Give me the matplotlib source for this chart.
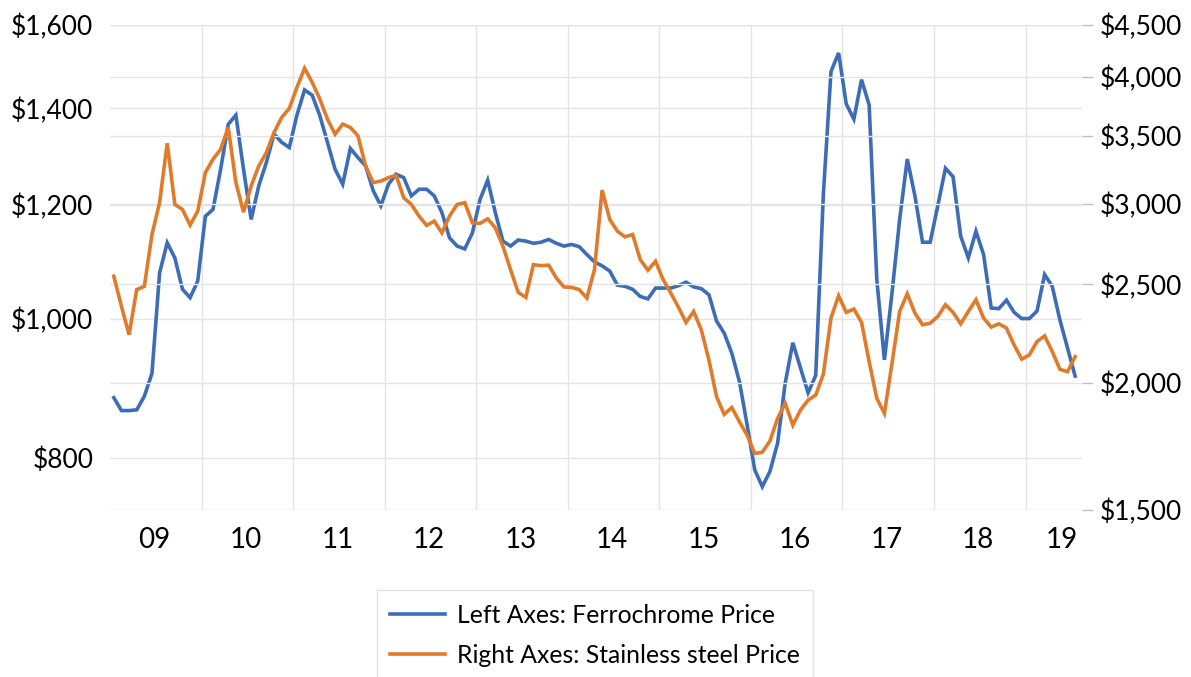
import numpy as np
import matplotlib
matplotlib.use("Agg")
import matplotlib.pyplot as plt
from matplotlib.ticker import FixedLocator, FixedFormatter, NullLocator

plt.rcParams['font.family'] = ['Lato', 'DejaVu Sans']

# monthly prices, Jan 2009 - Jul 2019
ferrochrome = [
    881, 863, 863, 864, 883, 916, 1076, 1129, 1102, 1048, 1034, 1062,
    1178, 1191, 1270, 1365, 1385, 1270, 1172, 1237, 1284, 1344, 1326, 1315,
    1385, 1442, 1430, 1384, 1326, 1270, 1240, 1313, 1294, 1277, 1227, 1198,
    1240, 1260, 1253, 1217, 1230, 1230, 1217, 1185, 1138, 1123, 1118, 1147,
    1210, 1248, 1185, 1132, 1123, 1134, 1132, 1128, 1130, 1135, 1128, 1123,
    1126, 1122, 1108, 1095, 1088, 1079, 1055, 1053, 1048, 1036, 1032, 1050,
    1050, 1050, 1054, 1060, 1052, 1049, 1039, 996, 977, 946, 904, 844,
    785, 764, 783, 819, 902, 962, 924, 888, 913, 1220, 1485, 1530,
    1410, 1376, 1466, 1408, 1065, 936, 1042, 1172, 1291, 1217, 1130, 1130,
    1198, 1272, 1255, 1141, 1102, 1150, 1108, 1017, 1016, 1030, 1010, 1000,
    1000, 1012, 1073, 1053, 998, 954, 912,
]
stainless = [
    2547, 2379, 2231, 2471, 2489, 2800, 3009, 3443, 2997, 2963, 2860, 2952,
    3221, 3320, 3396, 3568, 3149, 2945, 3125, 3270, 3371, 3527, 3650, 3725,
    3907, 4080, 3952, 3805, 3636, 3514, 3595, 3568, 3501, 3270, 3149, 3160,
    3185, 3201, 3043, 2997, 2919, 2858, 2886, 2810, 2919, 2997, 3009, 2875,
    2871, 2901, 2842, 2726, 2586, 2456, 2428, 2615, 2609, 2612, 2537, 2486,
    2484, 2471, 2424, 2586, 3096, 2897, 2821, 2785, 2800, 2645, 2582, 2635,
    2528, 2452, 2375, 2294, 2352, 2256, 2107, 1939, 1863, 1892, 1832, 1777,
    1705, 1710, 1754, 1846, 1910, 1818, 1881, 1924, 1946, 2041, 2317, 2437,
    2347, 2365, 2295, 2099, 1932, 1867, 2092, 2352, 2448, 2343, 2282, 2290,
    2325, 2388, 2347, 2287, 2352, 2415, 2317, 2270, 2287, 2265, 2180, 2111,
    2131, 2197, 2225, 2148, 2063, 2052, 2123,
]
year_labels = ['09', '10', '11', '12', '13', '14', '15', '16', '17', '18', '19']
left_ticks = [800, 1000, 1200, 1400, 1600]
right_ticks = [1500, 2000, 2500, 3000, 3500, 4000, 4500]

blue = '#3C6DB6'
orange = '#E07B2C'
grid_c = '#E4E4E4'

months = np.arange(len(ferrochrome)) + 0.5

fig = plt.figure(figsize=(11.91, 6.77), dpi=100)
ax = fig.add_axes([110 / 1191, 1 - 510 / 677, 972 / 1191, 485 / 677])
ax2 = ax.twinx()

l1, = ax.plot(months, ferrochrome, color=blue, lw=2.6, solid_joinstyle='miter')
l2, = ax2.plot(months, stainless, color=orange, lw=2.6, solid_joinstyle='miter')

ax.set_yscale('log')
ax2.set_yscale('log')
ax.set_ylim(736, 1600)
ax2.set_ylim(1500, 4500)
ax.set_xlim(0, 127.4)

ax.yaxis.set_major_locator(FixedLocator(left_ticks))
ax.yaxis.set_major_formatter(FixedFormatter(['${:,}'.format(v) for v in left_ticks]))
ax.yaxis.set_minor_locator(NullLocator())
ax2.yaxis.set_major_locator(FixedLocator(right_ticks))
ax2.yaxis.set_major_formatter(FixedFormatter(['${:,}'.format(v) for v in right_ticks]))
ax2.yaxis.set_minor_locator(NullLocator())

# year labels centred in each year, last one over the partial year
label_pos = [12 * k + 5.8 for k in range(10)] + [124.75]
ax.set_xticks(label_pos)
ax.set_xticklabels(year_labels)
ax.set_xticks([12 * k for k in range(1, 11)], minor=True)

ax.tick_params(axis='x', which='both', length=0, labelsize=20, pad=12)
ax.tick_params(axis='y', length=0, labelsize=19, pad=12)
ax2.tick_params(axis='y', length=8, width=1, color='#BFBFBF', labelsize=19, pad=5)

ax.grid(axis='y', which='major', color=grid_c, lw=1)
ax.grid(axis='x', which='minor', color=grid_c, lw=1)
ax2.grid(axis='y', which='major', color=grid_c, lw=1)
ax.set_axisbelow(True)
ax2.set_axisbelow(True)

for a in (ax, ax2):
    for s in a.spines.values():
        s.set_visible(False)

leg = fig.legend([l1, l2], ['Left Axes: Ferrochrome Price', 'Right Axes: Stainless steel Price'],
                 loc='upper center', bbox_to_anchor=(595 / 1191, 1 - 590 / 677),
                 fontsize=17.8, frameon=True, fancybox=False, edgecolor='#D9D9D9',
                 handlelength=2.2, handletextpad=0.5, labelspacing=0.7,
                 borderpad=0.55, borderaxespad=0)
leg.get_frame().set_linewidth(1)

fig.savefig('out.png', dpi=100)
